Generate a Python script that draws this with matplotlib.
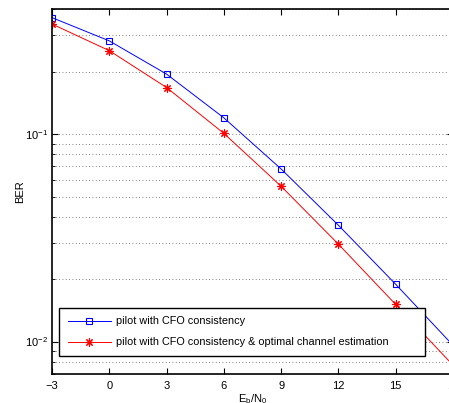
import numpy as np
import matplotlib
matplotlib.use("Agg")
import matplotlib.pyplot as plt
from matplotlib.ticker import LogLocator, NullFormatter

plt.rcParams['font.family'] = ['Liberation Sans', 'DejaVu Sans']
plt.rcParams['mathtext.fontset'] = 'custom'
plt.rcParams['mathtext.rm'] = 'Liberation Sans'
plt.rcParams['mathtext.default'] = 'regular'

# data
ebn0 = [-3, 0, 3, 6, 9, 12, 15, 18]
ber_pilot = [0.365, 0.282, 0.195, 0.120, 0.0680, 0.0364, 0.0189, 0.0096]
ber_pilot_opt = [0.340, 0.253, 0.168, 0.101, 0.0561, 0.0295, 0.0151, 0.0077]
labels = ["pilot with CFO consistency",
          "pilot with CFO consistency & optimal channel estimation"]
xticks = [-3, 0, 3, 6, 9, 12, 15, 18]

fig = plt.figure(figsize=(4.49, 4.03), dpi=100)
ax = fig.add_axes([0.1158, 0.0727, 0.893, 0.904])

ax.semilogy(ebn0, ber_pilot, color='blue', lw=0.7, marker='s', ms=4.5,
            mfc='none', mec='blue', mew=0.8, label=labels[0])
ax.semilogy(ebn0, ber_pilot_opt, color='red', lw=0.7, marker=(8, 2, 0), ms=6,
            mec='red', mew=0.8, label=labels[1])

ax.set_xlim(-3, 18)
ax.set_ylim(0.007, 0.4)
ax.set_xticks(xticks)
ax.yaxis.set_major_locator(LogLocator(base=10))
ax.yaxis.set_minor_locator(LogLocator(base=10, subs=np.arange(2, 10)))
ax.yaxis.set_minor_formatter(NullFormatter())

ax.grid(True, which='both', axis='y', linestyle=(0, (1, 3)), color='0.35', lw=0.6)
ax.tick_params(which='both', direction='in', top=True, right=True, labelsize=8)
ax.tick_params(which='major', length=4, width=0.8)
ax.tick_params(which='minor', length=2.5, width=0.6)
ax.tick_params(axis='x', pad=5)
ax.tick_params(axis='y', pad=3)
for sp in ax.spines.values():
    sp.set_linewidth(1.2)

ax.set_xlabel(r'E$_\mathrm{b}$/N$_\mathrm{0}$', fontsize=8, labelpad=1)
ax.set_ylabel('BER', fontsize=8, labelpad=0)

leg = ax.legend(loc='lower left', bbox_to_anchor=(0.0175, 0.0486, 0.9125, 0.129),
                mode='expand', fontsize=7.8, handlelength=4.0, fancybox=False,
                framealpha=1, borderaxespad=0, labelspacing=1.0, borderpad=0.8,
                handletextpad=0.5)
leg.get_frame().set_edgecolor('black')
leg.get_frame().set_linewidth(1.0)

fig.savefig("out.png", dpi=100)
